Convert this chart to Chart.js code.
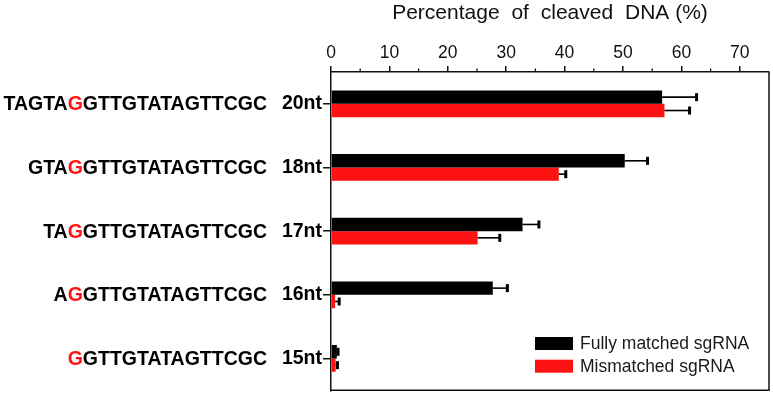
<!DOCTYPE html>
<html><head><meta charset="utf-8">
<script src="https://cdn.jsdelivr.net/npm/chart.js@4.4.0/dist/chart.umd.min.js"></script>
<style>html,body{margin:0;padding:0;background:#fff;overflow:hidden;}</style>
</head><body>
<canvas id="c" width="773" height="403" style="width:773px;height:403px;display:block"></canvas>
<script>
const categories = ['20nt', '18nt', '17nt', '16nt', '15nt'];
const sequences = ['TAGTAGGTTGTATAGTTCGC', 'GTAGGTTGTATAGTTCGC', 'TAGGTTGTATAGTTCGC', 'AGGTTGTATAGTTCGC', 'GGTTGTATAGTTCGC'];
const mismatchPos = [5, 3, 2, 1, 0];
const seriesNames = ['Fully matched sgRNA', 'Mismatched sgRNA'];
const fullyMatched = [56.7, 50.3, 32.8, 27.7, 1.0];
const fullyMatchedErr = [5.9, 3.9, 2.8, 2.5, 0.2];
const mismatched = [57.1, 39.0, 25.1, 0.7, 0.8];
const mismatchedErr = [4.3, 1.2, 3.8, 0.7, 0.3];
const xTicks = [0, 10, 20, 30, 40, 50, 60, 70];
const xMinorTicks = [5, 15, 25, 35, 45, 55, 65];
const axisTitle = 'Percentage of cleaved DNA (%)';

const BLACK = '#000000';
const RED = '#ff1212';
const AXIS = '#111111';
const FONT = '"Liberation Sans", Arial, sans-serif';
const errors = [fullyMatchedErr, mismatchedErr];

const decor = {
  id: 'decor',
  afterDatasetsDraw(chart) {
    const ctx = chart.ctx;
    const xs = chart.scales.x;
    ctx.save();
    chart.data.datasets.forEach((ds, d) => {
      const meta = chart.getDatasetMeta(d);
      meta.data.forEach((bar, i) => {
        const v = ds.data[i];
        const e = errors[d][i];
        const x0 = xs.getPixelForValue(v);
        const x1 = xs.getPixelForValue(v + e);
        ctx.strokeStyle = '#000';
        ctx.lineWidth = 1.6;
        ctx.beginPath();
        ctx.moveTo(x0, bar.y);
        ctx.lineTo(x1, bar.y);
        ctx.stroke();
        ctx.fillStyle = '#000';
        ctx.fillRect(x1 - 1.5, bar.y - 4, 3, 8);
      });
    });
    ctx.restore();
  },
  afterDraw(chart) {
    const ctx = chart.ctx;
    const a = chart.chartArea;
    const xs = chart.scales.x;
    const ys = chart.scales.y;
    ctx.save();
    // frame right & bottom
    ctx.strokeStyle = AXIS;
    ctx.lineWidth = 1.5;
    ctx.beginPath();
    ctx.moveTo(a.right, a.top);
    ctx.lineTo(a.right, a.bottom);
    ctx.lineTo(a.left, a.bottom);
    ctx.stroke();
    // minor ticks
    ctx.lineWidth = 1.3;
    xMinorTicks.forEach(v => {
      const x = xs.getPixelForValue(v);
      ctx.beginPath();
      ctx.moveTo(x, a.top);
      ctx.lineTo(x, a.top - 3.5);
      ctx.stroke();
    });
    // axis title with slightly wider word gaps
    ctx.font = '21px ' + FONT;
    ctx.textBaseline = 'middle';
    ctx.textAlign = 'left';
    ctx.fillStyle = AXIS;
    const words = axisTitle.split(' ');
    const sp = ctx.measureText(' ').width;
    const gaps = words.map((w, k) => k < words.length - 2 ? sp + 6 : sp);
    let total = 0;
    words.forEach((w, k) => { total += ctx.measureText(w).width + (k < words.length - 1 ? gaps[k] : 0); });
    let tx = (a.left + a.right) / 2 - total / 2;
    words.forEach((w, k) => {
      ctx.fillText(w, tx, 13);
      tx += ctx.measureText(w).width + gaps[k];
    });
    // sequences
    ctx.font = 'bold 19.5px ' + FONT;
    sequences.forEach((s, i) => {
      const y = ys.getPixelForValue(i) + 1;
      const w = ctx.measureText(s).width;
      let x = 267 - w;
      const pre = s.slice(0, mismatchPos[i]);
      const g = s[mismatchPos[i]];
      const post = s.slice(mismatchPos[i] + 1);
      ctx.fillStyle = '#000';
      ctx.fillText(pre, x, y);
      x += ctx.measureText(pre).width;
      ctx.fillStyle = RED;
      ctx.fillText(g, x, y);
      x += ctx.measureText(g).width;
      ctx.fillStyle = '#000';
      ctx.fillText(post, x, y);
    });
    // legend
    const colors = [BLACK, RED];
    ctx.font = '17.5px ' + FONT;
    seriesNames.forEach((n, i) => {
      const y = 337 + i * 22.7;
      ctx.fillStyle = colors[i];
      ctx.fillRect(535, y, 38, 13);
      ctx.fillStyle = '#1a1a1a';
      ctx.fillText(n, 580, y + 7);
    });
    ctx.restore();
  }
};

new Chart(document.getElementById('c'), {
  type: 'bar',
  data: {
    labels: categories,
    datasets: [
      { label: seriesNames[0], data: fullyMatched, backgroundColor: BLACK, borderWidth: 0 },
      { label: seriesNames[1], data: mismatched, backgroundColor: RED, borderWidth: 0 }
    ]
  },
  options: {
    indexAxis: 'y',
    responsive: false,
    animation: false,
    devicePixelRatio: 1,
    categoryPercentage: 0.42,
    barPercentage: 1.0,
    layout: { padding: { top: 0, left: 0, right: 4, bottom: 4 } },
    plugins: { legend: { display: false }, tooltip: { enabled: false } },
    scales: {
      x: {
        type: 'linear',
        position: 'top',
        min: 0,
        max: 75,
        afterBuildTicks: s => { s.ticks = xTicks.map(v => ({ value: v })); },
        afterFit: s => { s.height = 72; },
        ticks: { font: { size: 17.5, family: FONT }, color: AXIS, padding: 2 },
        grid: { drawOnChartArea: false, drawTicks: true, tickLength: 6, color: AXIS, lineWidth: 1.5 },
        border: { display: true, color: AXIS, width: 1.5 },
        title: { display: false }
      },
      y: {
        type: 'category',
        afterFit: s => { s.width = 331; },
        ticks: { font: { size: 19.5, weight: 'bold', family: FONT }, color: '#000', padding: 1 },
        grid: { drawOnChartArea: false, drawTicks: true, tickLength: 8, color: AXIS, lineWidth: 1.5, offset: false },
        border: { display: true, color: AXIS, width: 1.5 }
      }
    }
  },
  plugins: [decor]
});
</script>
</body></html>
